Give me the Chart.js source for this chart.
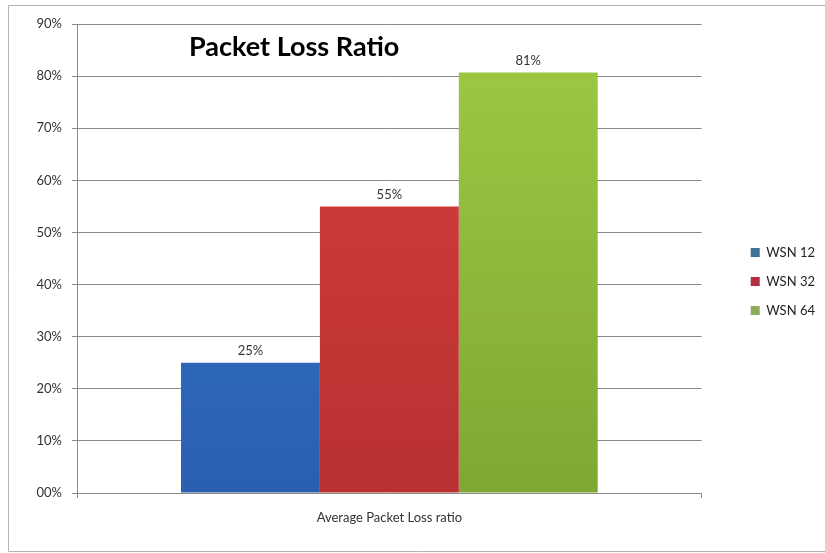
<!DOCTYPE html>
<html>
<head>
<meta charset="utf-8">
<script src="https://cdn.jsdelivr.net/npm/chart.js@4"></script>
<style>
  html, body { margin: 0; padding: 0; background: #ffffff; }
  #wrap { width: 825px; height: 553px; position: relative; }
</style>
</head>
<body>
<div id="wrap"><canvas id="loss-chart"></canvas></div>
<script>
const categories = ['Average Packet Loss ratio'];
const seriesNames = ['WSN 12', 'WSN 32', 'WSN 64'];
const wsn12 = [25];
const wsn32 = [55];
const wsn64 = [80.7];
const yTicks = [0, 10, 20, 30, 40, 50, 60, 70, 80, 90];

const FONT = 'Lato, "Open Sans", sans-serif';
const GRID = '#8a8a8a';

function barGradient(ctx, light, dark) {
    const chart = ctx.chart;
    const area = chart.chartArea;
    if (!area) return light;
    const g = chart.ctx.createLinearGradient(0, area.top, 0, area.bottom);
    g.addColorStop(0, light);
    g.addColorStop(1, dark);
    return g;
}

// value labels above each bar
const valueLabels = {
    id: 'valueLabels',
    afterDatasetsDraw(chart) {
        const c = chart.ctx;
        c.save();
        c.font = '13px ' + FONT;
        c.fillStyle = '#333333';
        c.textAlign = 'center';
        c.textBaseline = 'bottom';
        chart.data.datasets.forEach((ds, i) => {
            const bar = chart.getDatasetMeta(i).data[0];
            c.fillText(Math.round(ds.data[0]) + '%', bar.x, bar.y - 5);
        });
        c.restore();
    }
};

// title sits inside the plot, plus the thin frame of the picture
const frameAndTitle = {
    id: 'frameAndTitle',
    afterDraw(chart) {
        const c = chart.ctx;
        const a = chart.chartArea;
        c.save();
        c.strokeStyle = '#b4b4b4';
        c.lineWidth = 1;
        c.beginPath();
        c.moveTo(8.5, 551.5);
        c.lineTo(8.5, 5.5);
        c.lineTo(825, 5.5);
        c.moveTo(8.5, 551.5);
        c.lineTo(825, 551.5);
        c.stroke();
        c.font = 'bold 27px ' + FONT;
        c.fillStyle = '#000000';
        c.textBaseline = 'middle';
        c.fillText('Packet Loss Ratio', a.left + 112, a.top + 23);
        c.restore();
    }
};

new Chart(document.getElementById('loss-chart'), {
    type: 'bar',
    data: {
        labels: categories,
        datasets: [
            {
                label: seriesNames[0],
                data: wsn12,
                backgroundColor: ctx => barGradient(ctx, '#3a7bd0', '#2a5fae'),
                borderWidth: 0
            },
            {
                label: seriesNames[1],
                data: wsn32,
                backgroundColor: ctx => barGradient(ctx, '#d84040', '#b83030'),
                borderWidth: 0
            },
            {
                label: seriesNames[2],
                data: wsn64,
                backgroundColor: ctx => barGradient(ctx, '#9fca42', '#7fa734'),
                borderWidth: 0
            }
        ]
    },
    options: {
        responsive: true,
        maintainAspectRatio: false,
        animation: false,
        datasets: {
            bar: { categoryPercentage: 0.667, barPercentage: 1 }
        },
        layout: {
            padding: { left: 12, top: 24, right: 0, bottom: 14 }
        },
        plugins: {
            legend: {
                position: 'right',
                labels: {
                    boxWidth: 9,
                    boxHeight: 9,
                    padding: 16,
                    color: '#222222',
                    font: { family: FONT, size: 13 },
                    generateLabels(chart) {
                        const cols = ['#3e7296', '#b52d45', '#8eab5c'];
                        return chart.data.datasets.map((ds, i) => ({
                            text: ds.label,
                            fillStyle: cols[i],
                            strokeStyle: cols[i],
                            lineWidth: 0,
                            datasetIndex: i,
                            fontColor: '#222222'
                        }));
                    }
                }
            },
            tooltip: { enabled: false }
        },
        scales: {
            x: {
                offset: true,
                grid: { display: true, drawOnChartArea: false, tickLength: 5, color: GRID },
                border: { color: GRID },
                ticks: { color: '#333333', padding: 12, font: { family: FONT, size: 13 } },
                afterFit(scale) { scale.height = 46; }
            },
            y: {
                min: 0,
                max: 90,
                afterBuildTicks(scale) {
                    scale.ticks = yTicks.map(v => ({ value: v }));
                },
                grid: { color: GRID, tickLength: 5 },
                border: { color: GRID },
                ticks: {
                    color: '#333333',
                    padding: 10,
                    font: { family: FONT, size: 13 },
                    callback: v => String(v).padStart(2, '0') + '%'
                },
                afterFit(scale) { scale.width = 65; }
            },
            spacer: {
                position: 'right',
                display: true,
                grid: { display: false },
                border: { display: false },
                ticks: { display: false },
                afterFit(scale) { scale.width = 33; }
            }
        }
    },
    plugins: [valueLabels, frameAndTitle]
});
</script>
</body>
</html>
